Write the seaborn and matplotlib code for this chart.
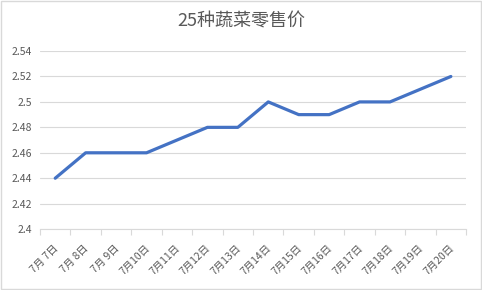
import matplotlib
matplotlib.use("Agg")
import matplotlib.pyplot as plt
import matplotlib.transforms as mtransforms
import seaborn as sns
import pandas as pd
import numpy as np

dates = ["7月 7日", "7月 8日", "7月 9日", "7月10日", "7月11日", "7月12日", "7月13日",
         "7月14日", "7月15日", "7月16日", "7月17日", "7月18日", "7月19日", "7月20日"]
prices = [2.44, 2.46, 2.46, 2.46, 2.47, 2.48, 2.48, 2.50, 2.49, 2.49, 2.50, 2.50, 2.51, 2.52]
yticks = [2.40, 2.42, 2.44, 2.46, 2.48, 2.50, 2.52, 2.54]
ytick_labels = ["2.4", "2.42", "2.44", "2.46", "2.48", "2.5", "2.52", "2.54"]
title = "25种蔬菜零售价"

sns.set_theme(style="white")
plt.rcParams['font.family'] = ['Noto Sans CJK SC', 'DejaVu Sans']

df = pd.DataFrame({"idx": np.arange(len(dates)), "price": prices})

fig = plt.figure(figsize=(4.82, 2.90), dpi=100)
ax = fig.add_axes([0.083, 0.210, 0.884, 0.614])
sns.lineplot(data=df, x="idx", y="price", ax=ax, color="#4472C4", linewidth=2.3)

ax.set_xlim(-0.5, len(dates) - 0.5)
ax.set_ylim(2.40, 2.54)
ax.set_yticks(yticks)
ax.set_yticklabels(ytick_labels, color="#595959", fontsize=7.5)
ax.yaxis.grid(True, color="#D9D9D9", linewidth=0.8)
ax.set_axisbelow(True)

ax.set_xticks(np.arange(len(dates)))
ax.set_xticklabels(dates, rotation=45, ha="right", rotation_mode="anchor",
                   color="#595959", fontsize=7.5)
ax.set_xticks(np.arange(-0.5, len(dates), 1.0), minor=True)
ax.tick_params(axis="x", which="major", length=0, pad=10)
ax.tick_params(axis="x", which="minor", length=4, color="#D9D9D9", width=0.8, direction="out", bottom=True)
ax.tick_params(axis="y", length=0, pad=6)

offset = mtransforms.ScaledTranslation(-2 / 100, 0, fig.dpi_scale_trans)
for lab in ax.get_xticklabels():
    lab.set_transform(lab.get_transform() + offset)

for s in ["top", "right", "left"]:
    ax.spines[s].set_visible(False)
ax.spines["bottom"].set_color("#D9D9D9")
ax.spines["bottom"].set_linewidth(0.8)
ax.set_xlabel("")
ax.set_ylabel("")

fig.text(0.5, 0.925, title, ha="center", va="center", fontsize=13, color="#595959")

border = plt.Rectangle((0.002, 0.003), 0.996, 0.994, transform=fig.transFigure,
                       fill=False, edgecolor="#D9D9D9", linewidth=1.0)
fig.add_artist(border)

fig.savefig("out.png", dpi=100)
